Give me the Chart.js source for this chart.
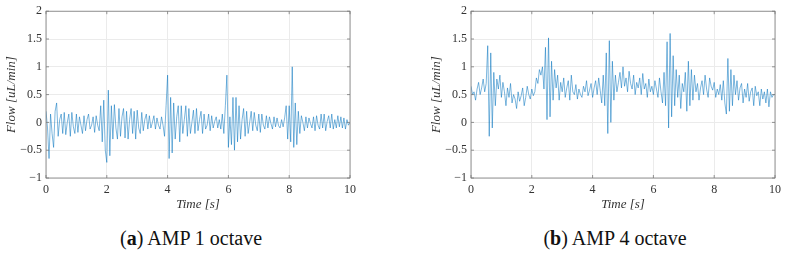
<!DOCTYPE html>
<html>
<head>
<meta charset="utf-8">
<script src="https://cdn.jsdelivr.net/npm/chart.js@4.4.1/dist/chart.umd.min.js"></script>
<style>
    body { margin: 0; background: #fff; width: 786px; height: 253px; position: relative; overflow: hidden; }
    .box { position: absolute; top: 0; height: 215px; }
    #boxA { left: 0; width: 400px; }
    #boxB { left: 425px; width: 361px; }
    .caption { position: absolute; top: 226px; width: 300px; text-align: center;
               font-family: "Liberation Serif", "DejaVu Serif", serif; font-size: 20px; line-height: 24px; color: #111; }
</style>
</head>
<body>
<div class="box" id="boxA"><canvas id="chartA"></canvas></div>
<div class="box" id="boxB"><canvas id="chartB"></canvas></div>
<div class="caption" style="left: 41px;">(<b>a</b>) AMP 1 octave</div>
<div class="caption" style="left: 465px;">(<b>b</b>) AMP 4 octave</div>
<script>
// sampled every 0.05 s from 0 to 10 s
const timeStep = 0.05;

const flowOctave1 = [
    0.2, -0.1, -0.65, 0.15, -0.2, -0.45, 0.2, 0.35, -0.25, 0.05, 0.15, -0.2, 0.18, -0.22, 0.0, 0.15, -0.25, 0.18, -0.08, -0.2,
    0.15, -0.18, 0.1, -0.05, -0.2, 0.12, -0.15, 0.05, 0.15, -0.12, -0.05, 0.1, -0.18, 0.12, -0.05, -0.15, 0.3, -0.35, 0.4, -0.5,
    -0.72, 0.58, -0.6, 0.3, -0.3, 0.32, -0.1, -0.3, 0.25, -0.25, 0.1, 0.25, -0.28, 0.2, -0.3, 0.05, 0.25, -0.2, 0.2, -0.3,
    0.22, -0.1, -0.2, 0.18, -0.15, 0.05, 0.15, -0.12, 0.12, -0.1, 0.0, 0.12, -0.12, 0.08, -0.05, -0.12, 0.1, -0.05, -0.25, 0.3,
    0.85, -0.65, 0.45, -0.55, 0.35, -0.3, 0.1, 0.3, -0.35, 0.3, -0.2, 0.05, 0.3, -0.25, 0.25, -0.2, 0.0, 0.22, -0.2, 0.25,
    -0.15, 0.05, 0.2, -0.2, 0.15, -0.12, -0.05, 0.15, -0.15, 0.12, -0.1, 0.02, 0.1, -0.1, 0.05, -0.12, 0.15, -0.2, 0.3, 0.85,
    -0.45, 0.1, -0.4, 0.45, -0.5, 0.45, -0.35, 0.3, -0.3, 0.05, 0.25, -0.25, 0.2, -0.2, 0.0, 0.2, -0.15, 0.18, -0.05, -0.15,
    0.15, -0.18, 0.15, -0.05, -0.12, 0.12, -0.1, 0.1, -0.02, -0.12, 0.1, -0.08, 0.08, -0.06, -0.1, 0.05, -0.08, 0.08, 0.3, -0.3,
    0.3, -0.35, 1.0, -0.45, 0.35, -0.4, 0.2, -0.2, 0.12, 0.0, -0.15, 0.1, -0.1, 0.08, -0.02, -0.1, 0.1, -0.15, 0.12, -0.05,
    -0.12, 0.15, -0.1, 0.15, -0.15, 0.02, 0.12, -0.1, 0.15, -0.12, 0.05, -0.1, 0.12, -0.08, 0.1, -0.1, 0.08, -0.12, 0.05, -0.05, 0.0
];

const flowOctave4 = [
    0.65, 0.5, 0.55, 0.4, 0.6, 0.72, 0.5, 0.62, 0.78, 0.55, 0.7, 1.38, -0.25, 1.25, -0.1, 0.9, 0.3, 0.78, 0.6, 0.85,
    0.45, 0.72, 0.55, 0.3, 0.62, 0.45, 0.7, 0.35, 0.5, 0.42, 0.25, 0.55, 0.38, 0.48, 0.62, 0.3, 0.45, 0.65, 0.5, 0.42,
    0.6, 0.48, 0.55, 0.8, 0.7, 0.95, 0.85, 1.0, 0.6, 1.35, 0.05, 1.52, 0.1, 1.1, 0.4, 0.95, 0.62, 0.85, 0.4, 0.72,
    0.55, 0.8, 0.45, 0.62, 0.75, 0.4, 0.85, 0.55, 0.5, 0.68, 0.42, 0.6, 0.5, 0.45, 0.65, 0.55, 0.75, 0.48, 0.58, 0.7,
    0.45, 0.62, 0.75, 0.5, 0.8, 0.58, 0.35, 0.85, 0.3, 1.25, -0.2, 1.47, 0.0, 1.1, 0.4, 0.85, 0.55, 0.72, 0.9, 0.62,
    1.0, 0.65, 0.8, 0.55, 0.92, 0.7, 0.6, 0.85, 0.5, 0.72, 0.62, 0.8, 0.5, 0.88, 0.6, 0.7, 0.45, 0.78, 0.55, 0.65,
    0.5, 0.75, 0.6, 0.45, 0.8, 0.55, 0.35, 0.9, 0.3, 1.45, -0.1, 1.6, 0.1, 1.2, 0.3, 0.95, 0.45, 0.85, 0.25, 0.7,
    0.55, 0.9, 0.2, 1.1, 0.3, 0.95, 0.4, 0.85, 0.55, 0.7, 0.4, 0.62, 0.75, 0.5, 0.85, 0.6, 0.45, 0.8, 0.65, 0.58,
    0.72, 0.45, 0.6, 0.5, 0.68, 0.4, 0.75, 0.35, 0.15, 1.15, 0.2, 0.95, 0.3, 0.85, 0.5, 0.75, 0.4, 0.62, 0.7, 0.35,
    0.6, 0.45, 0.7, 0.38, 0.55, 0.62, 0.3, 0.65, 0.48, 0.55, 0.3, 0.6, 0.42, 0.55, 0.35, 0.6, 0.28, 0.55, 0.45, 0.5, 0.5
];

const xTicks = [0, 2, 4, 6, 8, 10];
const yTicks = [-1, -0.5, 0, 0.5, 1, 1.5, 2];

const lineColor = "rgba(0, 114, 189, 0.65)";
const gridColor = "#ebebeb";
const boxColor = "#7a7a7a";
const tickFont = { family: "'Liberation Serif', 'DejaVu Serif', serif", size: 12 };
const titleFont = { family: "'Liberation Serif', 'DejaVu Serif', serif", size: 13, style: "italic" };

function minusSign(v) {
    return String(v).replace("-", "\u2212");
}

// MATLAB style box with inward ticks
const boxPlugin = {
    id: "matlabBox",
    afterDraw(chart) {
        const { ctx, chartArea: a, scales } = chart;
        ctx.save();
        ctx.strokeStyle = boxColor;
        ctx.lineWidth = 0.8;
        ctx.strokeRect(a.left, a.top, a.right - a.left, a.bottom - a.top);
        ctx.beginPath();
        xTicks.forEach(t => {
            const px = scales.x.getPixelForValue(t);
            ctx.moveTo(px, a.bottom); ctx.lineTo(px, a.bottom - 3);
            ctx.moveTo(px, a.top); ctx.lineTo(px, a.top + 3);
        });
        yTicks.forEach(t => {
            const py = scales.y.getPixelForValue(t);
            ctx.moveTo(a.left, py); ctx.lineTo(a.left + 3, py);
            ctx.moveTo(a.right, py); ctx.lineTo(a.right - 3, py);
        });
        ctx.stroke();
        ctx.restore();
    }
};

function makeChart(canvasId, values, rightPad) {
    const points = values.map((v, i) => ({ x: i * timeStep, y: v }));
    return new Chart(document.getElementById(canvasId), {
        type: "line",
        data: {
            datasets: [{
                data: points,
                borderColor: lineColor,
                borderWidth: 0.8,
                pointRadius: 0,
                tension: 0,
                fill: false
            }]
        },
        options: {
            responsive: true,
            maintainAspectRatio: false,
            animation: false,
            layout: { padding: { top: 9, right: rightPad, bottom: 0, left: 0 } },
            plugins: { legend: { display: false }, tooltip: { enabled: false } },
            scales: {
                x: {
                    type: "linear",
                    min: 0,
                    max: 10,
                    afterBuildTicks: s => { s.ticks = xTicks.map(v => ({ value: v })); },
                    afterFit: s => { s.height = 37; },
                    ticks: { color: "#333", font: tickFont, padding: 5, maxRotation: 0,
                             callback: v => minusSign(v) },
                    grid: { color: gridColor, drawTicks: false },
                    border: { display: false },
                    title: { display: true, text: "Time [s]", color: "#333", font: titleFont,
                             padding: { top: 0, bottom: 3 } }
                },
                y: {
                    min: -1,
                    max: 2,
                    afterBuildTicks: s => { s.ticks = yTicks.map(v => ({ value: v })); },
                    afterFit: s => { s.width = 46; },
                    ticks: { color: "#333", font: tickFont, padding: 4,
                             callback: v => minusSign(v) },
                    grid: { color: gridColor, drawTicks: false },
                    border: { display: false },
                    title: { display: true, text: "Flow [uL/min]", color: "#333", font: titleFont,
                             padding: { top: 4, bottom: 0 } }
                }
            }
        },
        plugins: [boxPlugin]
    });
}

makeChart("chartA", flowOctave1, 50);
makeChart("chartB", flowOctave4, 9);
</script>
</body>
</html>
